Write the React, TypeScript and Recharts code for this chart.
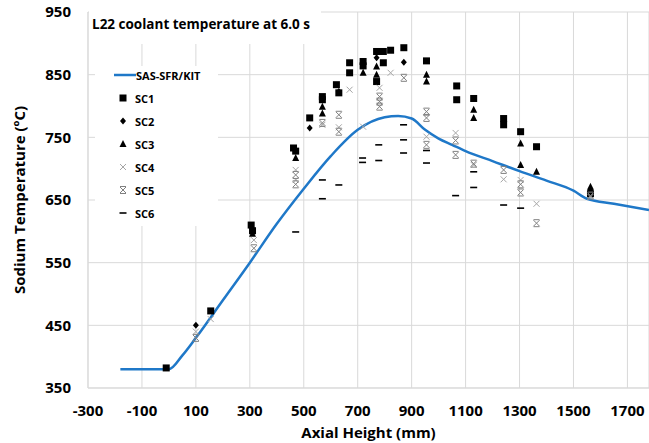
import React from "react";
import {CartesianGrid, ComposedChart, Label, Line, Scatter, XAxis, YAxis} from "recharts";

// SAS-SFR/KIT simulation curve (axial height mm, temperature ºC)
const SIM_HEIGHT = [-180, 0, 50, 100, 200, 300, 400, 500, 600, 700, 800, 850, 900, 950, 1000, 1050, 1100, 1200, 1300, 1400, 1500, 1550, 1650, 1780];
const SIM_TEMP = [380, 380, 402, 430, 490, 550, 612, 668, 720, 762, 782, 784, 780, 762, 748, 738, 728, 712, 696, 681, 665, 652, 644, 634];

// measurements [height, temperature]
const SC1: [number, number][] = [
    [-10, 382], [155, 473], [305, 610], [310, 601], [462, 733], [470, 728], [522, 781],
    [569, 815], [569, 810], [621, 834], [630, 821], [670, 869], [670, 853], [720, 871],
    [720, 864], [770, 887], [795, 887], [795, 869], [770, 839], [822, 889], [871, 893],
    [955, 872], [1067, 832], [1067, 810], [1130, 812], [1241, 780], [1241, 770],
    [1304, 759], [1363, 735], [1563, 660],
];
const SC2: [number, number][] = [
    [100, 450], [522, 765], [630, 823], [770, 877], [871, 870], [1563, 666],
];
const SC3: [number, number][] = [
    [310, 596], [470, 717], [569, 799], [569, 788], [720, 853], [770, 863], [770, 850],
    [955, 850], [955, 839], [1130, 794], [1130, 781], [1304, 740], [1304, 706],
    [1363, 695], [1563, 671],
];
const SC4: [number, number][] = [
    [100, 440], [155, 460], [315, 586], [470, 698], [470, 682], [569, 770], [630, 766],
    [670, 826], [720, 767], [781, 829], [822, 853], [955, 751], [1063, 757], [1130, 706],
    [1241, 683], [1304, 682], [1363, 644], [1563, 655],
];
const SC5: [number, number][] = [
    [100, 430], [315, 573], [470, 690], [470, 675], [569, 773], [630, 786], [630, 759],
    [781, 815], [781, 807], [781, 799], [871, 845], [955, 791], [955, 781], [955, 738],
    [1063, 745], [1063, 722], [1130, 708], [1241, 698], [1304, 675], [1304, 662],
    [1363, 613], [1563, 657],
];
const SC6: [number, number][] = [
    [470, 599], [569, 682], [569, 652], [630, 674], [718, 717], [718, 710], [778, 738],
    [778, 713], [870, 770], [870, 746], [870, 725], [955, 729], [955, 709], [1063, 657],
    [1130, 695], [1130, 670], [1241, 642], [1304, 637],
];

const X_TICKS = [-300, -100, 100, 300, 500, 700, 900, 1100, 1300, 1500, 1700];
const Y_TICKS = [350, 450, 550, 650, 750, 850, 950];

const FONT = "'Open Sans', sans-serif";
const BLUE = "#1f78c8";

const toPoints = (pts: [number, number][]) => pts.map(([x, y]) => ({x, y}));
const simData = SIM_HEIGHT.map((x, i) => ({x, y: SIM_TEMP[i]}));

const Square = ({cx, cy}: any) => <rect x={cx - 3.5} y={cy - 3.5} width={7} height={7} fill="#000"/>;
const Diamond = ({cx, cy}: any) => (
    <polygon points={`${cx},${cy - 3.5} ${cx + 3},${cy} ${cx},${cy + 3.5} ${cx - 3},${cy}`} fill="#000"/>
);
const Triangle = ({cx, cy}: any) => (
    <polygon points={`${cx},${cy - 4} ${cx + 3.5},${cy + 3} ${cx - 3.5},${cy + 3}`} fill="#000"/>
);
const Cross = ({cx, cy}: any) => (
    <path d={`M${cx - 3},${cy - 3}L${cx + 3},${cy + 3}M${cx - 3},${cy + 3}L${cx + 3},${cy - 3}`} stroke="#a6a6a6" strokeWidth={1}/>
);
const Star = ({cx, cy}: any) => (
    <path
        d={`M${cx - 3},${cy - 3}L${cx + 3},${cy + 3}M${cx - 3},${cy + 3}L${cx + 3},${cy - 3}M${cx - 3},${cy - 3.5}L${cx + 3},${cy - 3.5}M${cx - 3},${cy + 3.5}L${cx + 3},${cy + 3.5}`}
        stroke="#808080" strokeWidth={1}/>
);
const Dash = ({cx, cy}: any) => <line x1={cx - 3.5} x2={cx + 3.5} y1={cy} y2={cy} stroke="#000" strokeWidth={1.6}/>;

const LEGEND = [
    {name: "SC1", Shape: Square},
    {name: "SC2", Shape: Diamond},
    {name: "SC3", Shape: Triangle},
    {name: "SC4", Shape: Cross},
    {name: "SC5", Shape: Star},
    {name: "SC6", Shape: Dash},
];

export default function App() {
    return (
        <div style={{position: "relative", width: 649, height: 443, fontFamily: FONT}}>
            <style>{`body{margin:0}`}</style>
            <ComposedChart width={649} height={443} margin={{top: 12, right: 0, left: 0, bottom: 0}}>
                <CartesianGrid stroke="#d9d9d9" strokeWidth={1}/>
                <XAxis
                    type="number"
                    dataKey="x"
                    domain={[-300, 1780]}
                    ticks={X_TICKS}
                    allowDataOverflow
                    height={55}
                    tickLine={false}
                    tickSize={0}
                    tickMargin={17}
                    stroke="#d9d9d9"
                    tick={{fill: "#000", fontSize: 15, fontWeight: 700, fontFamily: FONT}}
                >
                    <Label value="Axial Height (mm)" position="insideBottom" offset={5}
                           style={{fill: "#000", fontSize: 15, fontWeight: 700, fontFamily: FONT}}/>
                </XAxis>
                <YAxis
                    type="number"
                    dataKey="y"
                    domain={[350, 950]}
                    ticks={Y_TICKS}
                    width={88}
                    tickLine={false}
                    tickSize={0}
                    tickMargin={17}
                    stroke="#d9d9d9"
                    tick={{fill: "#000", fontSize: 15, fontWeight: 700, fontFamily: FONT}}
                >
                    <Label value="Sodium Temperature (ºC)" angle={-90} position="insideLeft" offset={20}
                           style={{textAnchor: "middle", fill: "#000", fontSize: 15, fontWeight: 700, fontFamily: FONT}}/>
                </YAxis>
                <Scatter data={toPoints(SC1)} shape={Square} isAnimationActive={false}/>
                <Scatter data={toPoints(SC2)} shape={Diamond} isAnimationActive={false}/>
                <Scatter data={toPoints(SC3)} shape={Triangle} isAnimationActive={false}/>
                <Scatter data={toPoints(SC4)} shape={Cross} isAnimationActive={false}/>
                <Scatter data={toPoints(SC5)} shape={Star} isAnimationActive={false}/>
                <Scatter data={toPoints(SC6)} shape={Dash} isAnimationActive={false}/>
                <Line data={simData} dataKey="y" type="monotone" stroke={BLUE} strokeWidth={2.5} dot={false}
                      isAnimationActive={false}/>
            </ComposedChart>

            {/* chart title, white box over gridlines */}
            <div style={{
                position: "absolute", left: 89, top: 4, width: 232, height: 40, background: "#fff",
                display: "flex", alignItems: "center", paddingLeft: 3, boxSizing: "border-box",
                fontSize: 13.5, fontWeight: 700, color: "#000", whiteSpace: "nowrap",
            }}>
                L22 coolant temperature at 6.0 s
            </div>

            {/* legend */}
            <div style={{
                position: "absolute", left: 95, top: 66, width: 123, height: 160, background: "#fff",
                fontSize: 11, fontWeight: 700, color: "#000",
            }}>
                <div style={{position: "absolute", top: 2, left: 19, display: "flex", alignItems: "center", height: 14}}>
                    <svg width={22} height={6}>
                        <line x1={0} x2={22} y1={3} y2={3} stroke={BLUE} strokeWidth={2.5}/>
                    </svg>
                    <span>SAS-SFR/KIT</span>
                </div>
                {LEGEND.map(({name, Shape}, i) => (
                    <div key={name} style={{
                        position: "absolute", top: 25 + i * 23, left: 21, display: "flex", alignItems: "center", height: 14,
                    }}>
                        <svg width={14} height={10}>
                            <Shape cx={7} cy={5}/>
                        </svg>
                        <span style={{marginLeft: 5}}>{name}</span>
                    </div>
                ))}
            </div>
        </div>
    );
}
